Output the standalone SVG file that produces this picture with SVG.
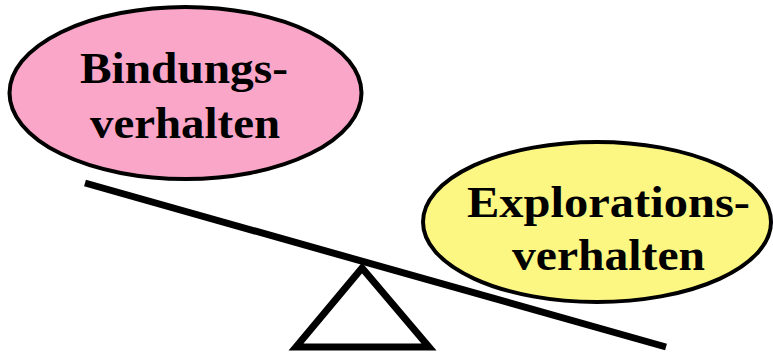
<svg xmlns="http://www.w3.org/2000/svg" width="773" height="357" viewBox="0 0 773 357">
<style>
.lbl{font-family:"Liberation Serif","Times New Roman",serif;font-weight:bold;font-size:44px;fill:#000;text-anchor:middle}
.node{stroke:#000;stroke-width:4}
</style>
<rect width="773" height="357" fill="#fff"/>
<g id="connectors">
<line x1="85" y1="183" x2="666" y2="347" stroke="#000" stroke-width="7"/>
<polygon points="362,268 296,347 429,347" fill="none" stroke="#000" stroke-width="7" stroke-linejoin="miter"/>
</g>
<g id="bindung">
<ellipse class="node" cx="185.5" cy="93" rx="176" ry="86" fill="#F9A6C9"/>
<text class="lbl" x="184" y="83" textLength="208" lengthAdjust="spacingAndGlyphs">Bindungs-</text>
<text class="lbl" x="185" y="138" textLength="190" lengthAdjust="spacingAndGlyphs">verhalten</text>
</g>
<g id="exploration">
<ellipse class="node" cx="597" cy="222" rx="174" ry="80" fill="#FCF682"/>
<text class="lbl" x="608.5" y="217" textLength="283" lengthAdjust="spacingAndGlyphs">Explorations-</text>
<text class="lbl" x="608.5" y="270" textLength="193" lengthAdjust="spacingAndGlyphs">verhalten</text>
</g>
</svg>
